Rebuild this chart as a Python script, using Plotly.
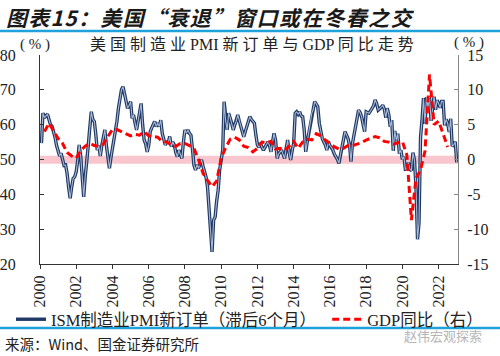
import pandas as pd
import plotly.graph_objects as go

# ISM manufacturing new orders, lagged 6 months (plotted month-end dates, Jan..Dec of each year)
pmi_2000 = [54.7, 63.3, 62.0, 62.4, 63.0, 61.5, 60.0, 59.5, 58.0, 56.3, 54.0, 52.0]
pmi_2001 = [51.0, 51.8, 50.0, 48.3, 48.4, 46.0, 42.0, 38.9, 42.0, 44.6, 45.0, 46.5]
pmi_2002 = [49.9, 54.2, 51.0, 46.0, 39.3, 45.0, 48.9, 54.0, 59.0, 63.7, 61.5, 60.9]
pmi_2003 = [57.0, 52.7, 54.0, 51.0, 54.0, 56.0, 58.5, 54.0, 51.3, 47.5, 50.5, 53.2]
pmi_2004 = [55.5, 57.5, 61.0, 64.7, 67.5, 70.0, 70.9, 68.5, 66.6, 64.7, 65.5, 66.6]
pmi_2005 = [61.8, 62.8, 60.5, 58.5, 61.0, 63.7, 66.1, 59.9, 55.6, 54.5, 52.2, 54.0]
pmi_2006 = [58.0, 59.0, 60.0, 60.9, 59.5, 60.4, 59.5, 61.3, 57.5, 56.0, 54.2, 55.0]
pmi_2007 = [55.0, 56.6, 53.7, 55.0, 54.2, 52.0, 50.8, 52.7, 51.5, 50.3, 55.0, 58.5]
pmi_2008 = [57.5, 58.5, 57.5, 57.0, 53.0, 48.4, 47.0, 48.5, 47.5, 48.5, 49.9, 48.0]
pmi_2009 = [46.5, 45.0, 42.0, 36.4, 30.0, 23.5, 32.6, 33.5, 38.0, 41.2, 47.0, 50.0]
pmi_2010 = [52.7, 66.6, 61.0, 58.5, 63.3, 62.0, 60.4, 58.5, 60.0, 61.0, 62.8, 61.0]
pmi_2011 = [59.4, 58.0, 56.5, 58.0, 59.4, 61.0, 62.3, 61.5, 61.0, 60.4, 57.0, 54.2]
pmi_2012 = [53.5, 54.7, 53.5, 52.7, 53.5, 54.5, 55.1, 54.0, 52.2, 55.0, 57.5, 55.5]
pmi_2013 = [50.3, 51.5, 52.0, 52.7, 51.5, 50.3, 53.0, 55.6, 52.0, 49.9, 52.5, 54.7]
pmi_2014 = [63.3, 63.7, 63.0, 63.7, 62.5, 62.3, 58.5, 52.2, 55.0, 57.5, 60.0, 63.3]
pmi_2015 = [64.5, 66.6, 66.0, 65.2, 60.4, 58.0, 56.0, 55.0, 54.2, 52.7, 55.1, 54.0]
pmi_2016 = [53.5, 52.7, 51.5, 50.8, 50.0, 48.9, 51.5, 53.7, 55.5, 58.0, 57.0, 56.0]
pmi_2017 = [54.0, 49.4, 54.7, 57.0, 59.4, 61.5, 64.2, 63.5, 62.3, 60.0, 58.0, 63.7]
pmi_2018 = [63.5, 63.3, 64.0, 64.7, 65.5, 67.1, 66.0, 64.2, 64.5, 65.0, 65.6, 64.5]
pmi_2019 = [62.0, 64.7, 63.0, 59.4, 61.3, 52.5, 58.2, 55.5, 57.4, 51.7, 52.7, 50.0]
pmi_2020 = [50.8, 47.2, 47.3, 49.1, 47.2, 46.8, 52.0, 49.8, 42.2, 27.1, 31.8, 56.4]
pmi_2021 = [61.5, 67.6, 60.2, 67.9, 65.1, 67.9, 61.1, 64.8, 68.0, 64.3, 67.0, 66.0]
pmi_2022 = [64.9, 66.7, 66.7, 59.8, 61.5, 60.4, 57.9, 61.7, 53.8, 54.2, 55.1, 49.2]

pmi_new_orders = (pmi_2000 + pmi_2001 + pmi_2002 + pmi_2003 + pmi_2004 + pmi_2005
                  + pmi_2006 + pmi_2007 + pmi_2008 + pmi_2009 + pmi_2010 + pmi_2011
                  + pmi_2012 + pmi_2013 + pmi_2014 + pmi_2015 + pmi_2016 + pmi_2017
                  + pmi_2018 + pmi_2019 + pmi_2020 + pmi_2021 + pmi_2022)

# US real GDP YoY (%), quarterly, 2000Q1 .. 2022Q2
gdp_yoy = [4.0, 5.2, 4.1, 3.0,
           2.3, 1.0, 0.5, 0.2,
           1.3, 1.9, 2.3, 2.0,
           1.9, 2.2, 3.3, 4.3,
           4.3, 4.0, 3.6, 3.4,
           3.6, 3.5, 4.0, 3.4,
           3.3, 3.2, 2.6, 2.5,
           2.1, 1.9, 2.3, 2.3,
           2.0, 1.6, 0.0, -2.0,
           -3.0, -3.9, -3.1, 0.2,
           1.7, 2.9, 3.2, 2.8,
           1.9, 1.7, 1.1, 1.6,
           2.5, 2.4, 2.6, 1.5,
           1.6, 1.3, 1.9, 2.6,
           1.6, 2.5, 2.9, 2.8,
           3.7, 3.4, 2.8, 2.3,
           1.8, 1.5, 1.6, 2.0,
           2.0, 2.2, 2.4, 2.8,
           3.0, 3.3, 3.1, 2.6,
           2.5, 2.2, 2.4, 2.6,
           0.6, -8.7, -2.7, -1.5,
           1.2, 12.2, 5.0, 5.5,
           3.7, 1.8]

tick_years = [2000, 2002, 2004, 2006, 2008, 2010, 2012, 2014, 2016, 2018, 2020, 2022]
left_ticks = [20, 30, 40, 50, 60, 70, 80]
right_ticks = [-15, -10, -5, 0, 5, 10, 15]
right_tick_text = ["-15", "-10", "-5", "0", "5", "10", "15"]

pmi_dates = pd.date_range("2000-01-01", periods=len(pmi_new_orders), freq="MS") + pd.offsets.MonthEnd(0)
gdp_dates = pd.date_range("2000-01-01", periods=len(gdp_yoy), freq="QS") + pd.offsets.QuarterEnd(0)

SERIF = "Liberation Serif, Noto Sans CJK SC"
CJK = "Noto Sans CJK SC"

# plot area in pixels
L, R, T, B = 40, 457.7, 55, 264
W, H = 500, 356
PW, PH = R - L, B - T


def px(x):
    return (x - L) / PW


def py(y):
    return (B - y) / PH


fig = go.Figure()

fig.add_trace(go.Scatter(
    x=pmi_dates, y=pmi_new_orders, mode="lines",
    name="ISM制造业PMI新订单（滞后6个月）", legend="legend",
    line=dict(color="#1f3864", width=3.4), yaxis="y"))
fig.add_trace(go.Scatter(
    x=pmi_dates, y=pmi_new_orders, mode="lines", showlegend=False, hoverinfo="skip",
    line=dict(color="#a9b9d6", width=1.1), yaxis="y"))
fig.add_trace(go.Scatter(
    x=gdp_dates, y=gdp_yoy, mode="lines", name="GDP同比（右）", legend="legend2",
    line=dict(color="#ff0000", width=3, dash="7px,4px"), yaxis="y2"))

fig.add_shape(type="rect", xref="paper", yref="y", x0=0, x1=1, y0=48.8, y1=51.1,
              fillcolor="#f8c6cc", line=dict(width=0), layer="below")

# blue separator lines
for yy in (31, 328):
    fig.add_shape(type="line", xref="paper", yref="paper", x0=px(0), x1=px(W),
                  y0=py(yy), y1=py(yy), line=dict(color="#1ea2dc", width=2.5))

HS = "\u200a"
title_txt = HS.join("图表15：美国“衰退”窗口或在冬春之交")

anns = [
    dict(text=f"<b><i>{title_txt}</i></b>", x=px(4), y=py(17),
         xanchor="left", yanchor="middle", font=dict(family=CJK, size=21, color="#1a1a1a")),
    dict(text="美 国 制 造 业 PMI 新 订 单 与 GDP 同 比 走 势", x=px(252), y=py(45),
         xanchor="center", yanchor="middle", font=dict(family=SERIF, size=16, color="#222222")),
    dict(text="( % )", x=px(35), y=py(44), xanchor="center", yanchor="middle",
         font=dict(family=SERIF, size=15, color="#222222")),
    dict(text="( % )", x=px(469), y=py(43), xanchor="center", yanchor="middle",
         font=dict(family=SERIF, size=15, color="#222222")),
    dict(text="来源：Wind、国金证券研究所", x=px(3), y=py(343), xanchor="left", yanchor="middle",
         font=dict(family=CJK, size=14.5, color="#222222")),
    dict(text="赵伟宏观探索", x=px(402), y=py(335), xanchor="left", yanchor="middle",
         font=dict(family=CJK, size=13, color="#b5b5b5")),
]
for a in anns:
    fig.add_annotation(xref="paper", yref="paper", showarrow=False, **a)

leg_common = dict(orientation="h", xanchor="left", yanchor="top",
                  font=dict(family=SERIF, size=16.5, color="#222222"),
                  bgcolor="rgba(0,0,0,0)", itemwidth=30)

fig.update_layout(
    width=W, height=H,
    margin=dict(l=L, r=W - R, t=T, b=H - B, autoexpand=False),
    paper_bgcolor="white", plot_bgcolor="white",
    showlegend=True,
    legend=dict(x=px(11), y=py(302), **leg_common),
    legend2=dict(x=px(327), y=py(302), **leg_common),
    xaxis=dict(
        type="date", range=["2000-01-01", "2023-01-25"],
        tickmode="array",
        tickvals=[f"{y}-01-01" for y in tick_years],
        ticktext=[str(y) for y in tick_years],
        tickangle=-90, ticks="outside", ticklen=4, tickcolor="#333333",
        showline=True, linecolor="#333333", linewidth=1,
        showgrid=False, zeroline=False,
        tickfont=dict(family=SERIF, size=16, color="#222222"),
    ),
    yaxis=dict(
        range=[20, 80], tickmode="array", tickvals=left_ticks,
        ticks="inside", ticklen=4, tickcolor="#333333",
        showline=True, linecolor="#333333", linewidth=1,
        showgrid=False, zeroline=False, ticklabelstandoff=20,
        tickfont=dict(family=SERIF, size=16, color="#222222"),
    ),
    yaxis2=dict(
        range=[-15, 15], tickmode="array", tickvals=right_ticks, ticktext=right_tick_text,
        overlaying="y", side="right", anchor="x",
        ticks="inside", ticklen=4, tickcolor="#888888",
        showline=True, linecolor="#888888", linewidth=1,
        showgrid=False, zeroline=False, ticklabelstandoff=5,
        tickfont=dict(family=SERIF, size=16, color="#222222"),
    ),
)

fig.write_html("out.html", config={"displayModeBar": False},
               post_script="document.body.style.margin='0';document.body.style.padding='0';"
                           "document.body.style.overflow='hidden';")
